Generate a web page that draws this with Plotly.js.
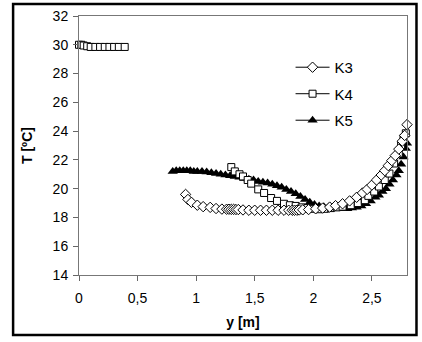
<!DOCTYPE html>
<html>
<head>
<meta charset="utf-8">
<script src="https://cdn.plot.ly/plotly-3.0.1.min.js"></script>
<style>body{margin:0;padding:0;background:#fff}#chart{width:422px;height:342px}</style>
</head>
<body>
<div id="chart"></div>
<script>
// K3 series (diamonds)
const k3X = [0.91,0.93,0.96,1.01,1.06,1.12,1.17,1.22,1.26,1.28,1.30,1.32,1.34,1.36,1.40,1.45,1.50,1.55,1.60,1.65,1.70,1.75,1.79,1.82,1.84,1.86,1.88,1.91,1.96,2.02,2.08,2.14,2.19,2.25,2.31,2.37,2.42,2.46,2.50,2.54,2.58,2.61,2.64,2.67,2.70,2.73,2.76,2.78,2.80];
const k3T = [19.6,19.25,19.05,18.85,18.75,18.7,18.62,18.58,18.57,18.57,18.56,18.56,18.55,18.55,18.52,18.5,18.5,18.5,18.5,18.5,18.5,18.5,18.5,18.5,18.5,18.5,18.52,18.53,18.55,18.6,18.65,18.72,18.82,18.95,19.15,19.4,19.7,19.95,20.25,20.6,20.95,21.25,21.6,21.95,22.3,22.75,23.3,23.7,24.45];
// K4 series (squares)
const k4X = [0.0,0.02,0.04,0.07,0.1,0.14,0.18,0.22,0.26,0.3,0.34,0.39,
             1.30,1.33,1.37,1.40,1.44,1.47,1.53,1.58,1.64,1.69,1.75,1.80,1.85,1.90,1.95,2.00,2.05,2.10,2.15,2.20,2.25,2.32,2.38,2.44,2.47,2.52,2.56,2.61,2.65,2.69,2.73,2.75,2.77,2.79];
const k4T = [30.0,30.0,29.95,29.9,29.85,29.85,29.85,29.85,29.85,29.85,29.85,29.85,
             21.5,21.2,21.0,20.85,20.6,20.35,19.95,19.7,19.35,19.15,18.95,18.85,18.8,18.7,18.65,18.6,18.57,18.6,18.65,18.7,18.75,18.85,19.0,19.2,19.5,19.8,20.15,20.6,21.05,21.75,22.45,23.0,23.5,23.85];
// K5 series (filled triangles)
const k5X = [0.80,0.83,0.86,0.89,0.92,0.95,0.98,1.01,1.05,1.09,1.13,1.17,1.21,1.25,1.29,1.33,1.37,1.41,1.45,1.49,1.53,1.57,1.61,1.65,1.69,1.73,1.77,1.81,1.85,1.89,1.93,1.97,2.01,2.05,2.09,2.13,2.17,2.21,2.25,2.29,2.33,2.37,2.41,2.45,2.49,2.53,2.56,2.59,2.62,2.65,2.68,2.71,2.73,2.75,2.77,2.79,2.80];
const k5T = [21.2,21.25,21.25,21.25,21.25,21.25,21.2,21.2,21.2,21.15,21.1,21.05,21.0,20.95,20.9,20.85,20.8,20.7,20.65,20.6,20.5,20.45,20.4,20.3,20.2,20.1,19.95,19.8,19.65,19.45,19.25,19.05,18.9,18.8,18.75,18.7,18.7,18.65,18.6,18.6,18.65,18.7,18.8,18.95,19.15,19.4,19.55,19.8,20.0,20.3,20.6,20.95,21.25,21.7,22.2,22.8,23.15];

const seriesNames = ['K3','K4','K5'];
const xTicks = [0,0.5,1,1.5,2,2.5];
const yTicks = [14,16,18,20,22,24,26,28,30,32];

const mk = {
  K3: {symbol:'diamond', size:8, color:'#fff', line:{color:'#000', width:1}},
  K4: {symbol:'square', size:7, color:'#fff', line:{color:'#000', width:1}},
  K5: {symbol:'triangle-up', size:9, color:'#000', line:{color:'#000', width:0}}
};

const data = [
  {x:k5X, y:k5T, mode:'markers', marker:mk.K5, showlegend:false, cliponaxis:false},
  {x:k4X, y:k4T, mode:'markers', marker:mk.K4, showlegend:false, cliponaxis:false},
  {x:k3X, y:k3T, mode:'markers', marker:mk.K3, showlegend:false, cliponaxis:false}
];
seriesNames.forEach(function(n){
  data.push({x:[null], y:[null], name:n, mode:'lines+markers', legendgroup:n,
    line:{color:'#000', width:1}, marker:mk[n]});
});

const font = {family:'"Liberation Sans", Arial, sans-serif', size:14, color:'#000'};
const layout = {
  width:422, height:342,
  margin:{l:79, r:14.5, t:16, b:67},
  paper_bgcolor:'#fff', plot_bgcolor:'#fff',
  font:font,
  separators:', ',
  xaxis:{range:[0,2.8], tickvals:xTicks, ticktext:xTicks.map(v=>String(v).replace('.',',')),
    showgrid:false, zeroline:false, showline:true, linecolor:'#777', linewidth:1, mirror:true,
    ticks:'outside', ticklen:5, tickcolor:'#666', ticklabelstandoff:5,
    title:{text:'<b>y [m]</b>', font:font, standoff:12}},
  yaxis:{range:[14,32], tickvals:yTicks,
    showgrid:false, zeroline:false, showline:true, linecolor:'#777', linewidth:1, mirror:true,
    ticks:'outside', ticklen:5, tickcolor:'#666', ticklabelstandoff:2,
    title:{text:'<b>T [ºC]</b>', font:font, standoff:16}},
  legend:{x:0.645, y:0.865, xanchor:'left', yanchor:'top', bgcolor:'rgba(0,0,0,0)',
    font:{family:font.family, size:15, color:'#000'}, tracegroupgap:4, itemwidth:34},
  showlegend:true,
  shapes:[{type:'rect', xref:'paper', yref:'paper',
    x0:(13-79)/328.5, x1:(417-79)/328.5, y0:(275-335)/259, y1:(275-4)/259,
    line:{color:'#000', width:2.5}, fillcolor:'rgba(0,0,0,0)'}]
};
Plotly.newPlot('chart', data, layout, {staticPlot:true, displayModeBar:false});
</script>
</body>
</html>
